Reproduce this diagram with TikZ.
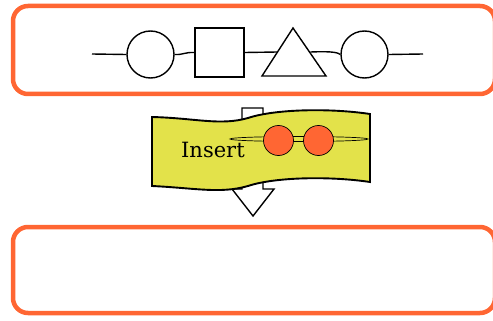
\documentclass[tikz,border=0pt]{standalone}
\usepackage{fontspec}
\newfontfamily\labelfont{DejaVu Serif}
\usetikzlibrary{shapes.geometric}
\definecolor{boxorange}{HTML}{FF6633}
\definecolor{banneryellow}{HTML}{E3E24A}
\tikzset{
  panel/.style={draw=boxorange, line width=4.5pt, rounded corners=15pt},
  shp/.style={draw=black, line width=1.4pt, fill=white, inner sep=0pt},
  wire/.style={draw=black, line width=1.4pt},
  bead/.style={circle, draw=black, line width=0.7pt, fill=boxorange, minimum size=30pt, inner sep=0pt},
}
\begin{document}
\begin{tikzpicture}[x=1pt, y=-1pt]
\useasboundingbox (0,0) rectangle (493,321);
% panels
\draw[panel] (13,6) rectangle (495,94);
\draw[panel] (13,227) rectangle (495,313);
% top chain
\coordinate (start) at (92,54);
\coordinate (finish) at (423,54);
\node[shp, circle, minimum size=47pt] (c1) at (150.5,54.5) {};
\node[shp, rectangle, minimum width=49pt, minimum height=49pt] (sq) at (219.5,52.5) {};
\coordinate (tl) at (262,76);
\coordinate (tr) at (326,76);
\coordinate (tt) at (293,28);
\draw[shp, line join=miter] (tl) -- (tt) -- (tr) -- cycle;
\coordinate (tin) at (277.5,52);
\coordinate (tout) at (310.5,52);
\node[shp, circle, minimum size=47pt] (c2) at (364.5,54.5) {};
\draw[wire] (start) -- (c1.west);
\draw[wire] (c1.east) .. controls (183,55) and (185,52) .. (sq.west);
\draw[wire] (sq.east) -- (tin);
\draw[wire] (tout) .. controls (335,51) and (338,53) .. (c2.west);
\draw[wire] (c2.east) -- (finish);
% down arrow
\draw[black, line width=1.4pt, fill=white, line join=miter]
  (242,108) -- (263,108) -- (263,189) -- (274,189) -- (253,216) -- (232,189) -- (242,189) -- cycle;
% banner
\draw[black, line width=1.9pt, fill=banneryellow]
  (152,117) .. controls (195,118) and (220,126) .. (248,118)
  .. controls (275,109) and (330,108) .. (370,114)
  -- (370,182)
  .. controls (330,176) and (275,177) .. (248,186)
  .. controls (220,194) and (195,188) .. (152,186) -- cycle;
% ring and beads
\node[ellipse, draw=black, line width=0.7pt, minimum width=138pt, minimum height=5pt, inner sep=0pt] (ring) at (299,139) {};
\node[bead] (b1) at (278.5,140.5) {};
\node[bead] (b2) at (318.5,140.5) {};
\node[anchor=base west, inner sep=0pt, font=\labelfont\fontsize{21}{25}\selectfont] (lbl) at (181,157.5) {Insert};
\end{tikzpicture}
\end{document}
